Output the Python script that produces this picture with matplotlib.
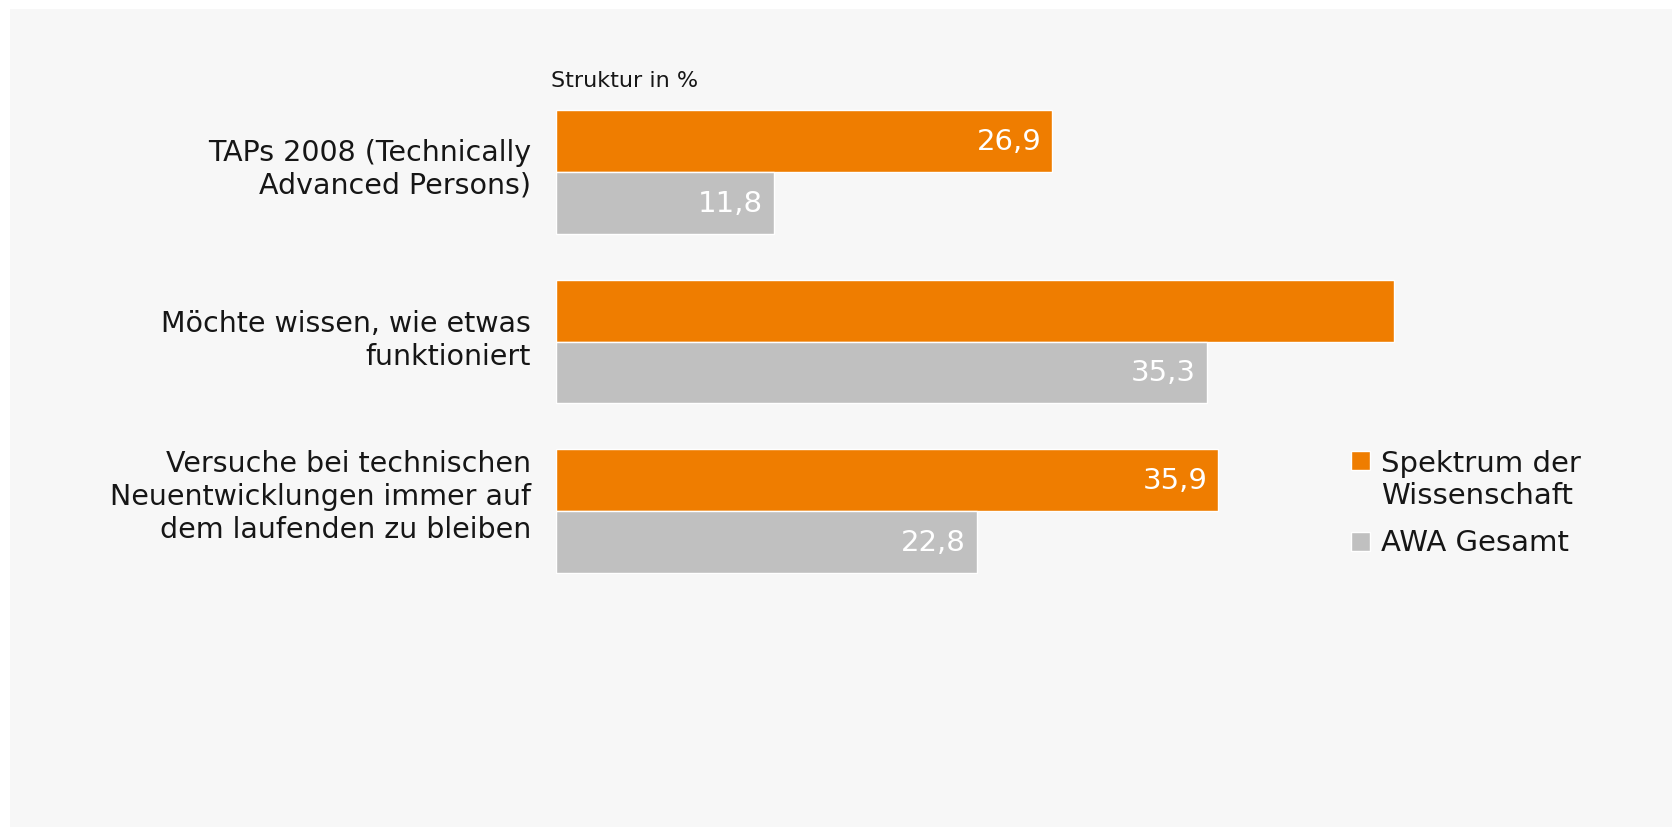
import matplotlib.pyplot as plt
import numpy as np

# --- data ---
categories = ['TAPs 2008 (Technically\nAdvanced Persons)',
              'Möchte wissen, wie etwas\nfunktioniert',
              'Versuche bei technischen\nNeuentwicklungen immer auf\ndem laufenden zu bleiben']
spektrum = [26.9, 45.4, 35.9]
awa = [11.8, 35.3, 22.8]
spektrum_shown = [True, False, True]   # in der Vorlage fehlt ein Wert
awa_shown = [True, True, True]
series_names = ['Spektrum der\nWissenschaft', 'AWA Gesamt']

orange = '#ef7d00'
grey = '#c0c0c0'
bg = '#f7f7f7'
txt = '#161616'

plt.rcParams['font.family'] = ['DejaVu Sans']

W, H = 1672, 828
fig = plt.figure(figsize=(W / 100, H / 100), dpi=100)
fig.patch.set_facecolor('white')
# grauer Hintergrund mit schmalem weißen Rand oben/links
fig.patches.append(plt.Rectangle((10 / W, 0), 1, 1 - 10 / H, transform=fig.transFigure,
                                 facecolor=bg, edgecolor='none', zorder=-10))

x0, x1 = 556, 556 + 18.45 * 50
ytop, ybot = 110, 575
ax = fig.add_axes([x0 / W, (H - ybot) / H, (x1 - x0) / W, (ybot - ytop) / H])
ax.set_facecolor('none')

y = np.arange(len(categories))
bh = 0.365
ax.barh(y - bh / 2, spektrum, height=bh, color=orange, edgecolor='white', linewidth=1)
ax.barh(y + bh / 2, awa, height=bh, color=grey, edgecolor='white', linewidth=1)
ax.set_xlim(0, 50)
ax.set_ylim(2.37, -0.37)

fs_val = 21
for i in range(len(categories)):
    if spektrum_shown[i]:
        ax.text(spektrum[i] - 0.6, y[i] - bh / 2, f'{spektrum[i]:.1f}'.replace('.', ','),
                ha='right', va='center', color='white', fontsize=fs_val)
    if awa_shown[i]:
        ax.text(awa[i] - 0.6, y[i] + bh / 2, f'{awa[i]:.1f}'.replace('.', ','),
                ha='right', va='center', color='white', fontsize=fs_val)

label_offset = [-0.02, -0.01, -0.09]
for i, cat in enumerate(categories):
    ax.text(-1.35, y[i] + label_offset[i], cat, ha='right', va='center',
            fontsize=20.5, color=txt, linespacing=1.22)

ax.text(-0.25, -0.37 - 0.17, 'Struktur in %', ha='left', va='center', fontsize=16, color=txt)

for s in ax.spines.values():
    s.set_visible(False)
ax.set_xticks([])
ax.set_yticks([])

# Legende
fig.patches.append(plt.Rectangle((1351 / W, (H - 471) / H), 19 / W, 19 / H, transform=fig.transFigure,
                                 facecolor=orange, edgecolor='white', linewidth=1))
fig.patches.append(plt.Rectangle((1351 / W, (H - 552) / H), 19 / W, 19 / H, transform=fig.transFigure,
                                 facecolor=grey, edgecolor='white', linewidth=1))
fig.text(1381 / W, (H - 480) / H, series_names[0], ha='left', va='center', fontsize=21,
         color=txt, linespacing=1.18)
fig.text(1381 / W, (H - 543) / H, series_names[1], ha='left', va='center', fontsize=21,
         color=txt)

fig.savefig('out.png', dpi=100, facecolor=fig.get_facecolor())
